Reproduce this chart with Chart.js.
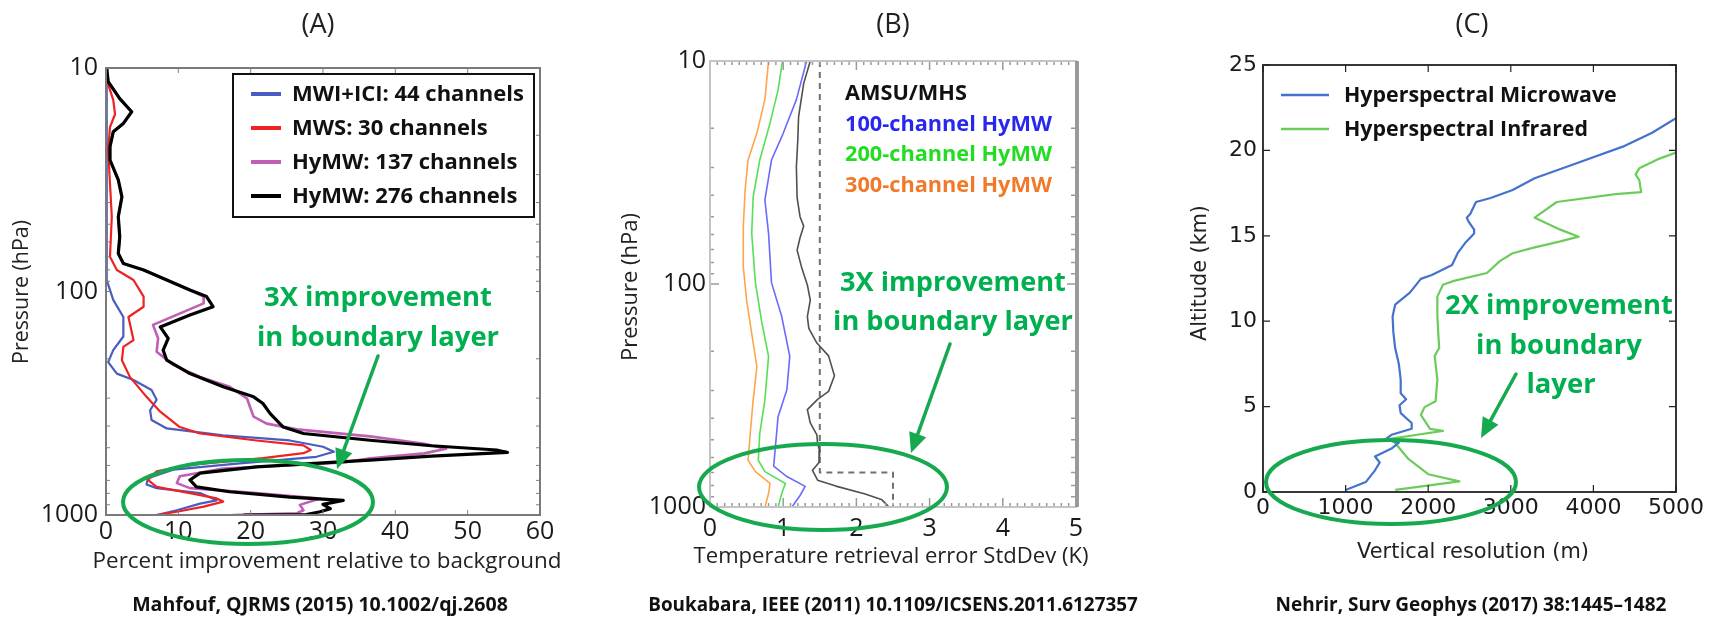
<!DOCTYPE html>
<html><head><meta charset="utf-8">
<script src="https://cdn.jsdelivr.net/npm/chart.js@4.4.1/dist/chart.umd.min.js"></script>
<style>
html,body{margin:0;padding:0;background:#fff;}
#wrap{position:relative;width:1713px;height:619px;overflow:hidden;background:#fff;}
canvas{position:absolute;left:0;top:0;width:1713px;height:619px;}
</style></head><body>
<div id="wrap">
<canvas id="cA" width="1713" height="619"></canvas>
<canvas id="cB" width="1713" height="619"></canvas>
<canvas id="cC" width="1713" height="619"></canvas>
</div>
<script>
// ---------------- DATA ----------------
// Panel A: pressure (hPa) vs percent improvement
const A_xTicks = [0,10,20,30,40,50,60];
const A_yTicks = [10,100,1000];
const A_MWI_p = [10,89,109,130,159,183,207,233,249,276,305,340,376,410,440,464,495,521,549,587,627,685,730,758,798,860,889,952,1000];
const A_MWI_v = [0.1,0.1,1.0,2.4,2.4,1.0,0.3,1.5,3.8,6.3,7.0,6.1,6.3,8.4,16.2,25.4,30,31.5,29.1,18.5,9.3,5.8,5.6,7.0,13,15.3,13,9.8,7.0];
const A_MWS_p = [10,11.3,13.9,16.1,18.4,23.3,32.8,46.3,69.9,80.1,88.8,105.4,117,130,165,177,203,241,296,345,404,432,464,488,512,529,557,597,638,697,748,798,843,871,917,967,1000];
const A_MWS_v = [0,0.1,1.0,1.25,0.55,0.3,0.55,0.8,0.55,1.5,3.8,5.2,5.2,3.1,3.8,2.4,2.2,3.3,5.6,7.5,10.2,13,20.8,27.3,28.3,27.3,21.7,11.6,7.0,5.8,7.0,11.6,15.3,16.2,13.5,9.8,7.0];
const A_H137_p = [10,11.5,13.7,15.7,17.7,19.3,22.5,25.8,31.7,37.7,46.3,56.9,67.6,74.9,80.1,88.8,98.5,105.4,113,141,162,186,213,241,267,301,328,363,390,414,445,480,505,530,558,580,590,619,671,720,758,798,843,901,952,982,1000];
const A_H137_v = [0.1,0.3,1.9,3.55,2.4,1.0,0.55,0.55,1.7,2.2,1.7,1.9,1.7,2.4,5.2,8.4,11.6,13.5,13.5,6.5,7.2,7.0,9.3,13,17.1,19.5,19.9,20.4,22.2,26.4,36.5,44,47,44,36.6,33,30,16.2,10.2,9.8,11.6,20.8,29.6,26.8,27.3,26.4,17.5];
const A_H276_p = [10,11.5,13.7,15.7,17.7,19.3,22.5,25.8,31.7,37.7,46.3,56.9,67.6,74.9,80.1,88.8,98.5,105.4,117,127.5,144,162,183,203,233,267,296,317,352,404,432,463,490,512,525,545,568,585,609,650,697,748,787,832,860,896,937,967,995,1000];
const A_H276_v = [0.1,0.3,1.9,3.55,2.4,1.0,0.55,0.55,1.7,2.2,1.7,1.9,1.7,2.4,5.2,8.4,11.6,13.9,14.8,11.6,7.5,8.6,7.9,8.4,11.6,16.2,20.4,21.7,22.7,24.5,27.3,36.5,45,54,55.5,45,36.5,30,20.8,13,11.6,12.5,17.1,25.4,32.8,30,31,29.6,27.7,19];

// Panel B: pressure (hPa) vs temperature retrieval error (K)
const B_xTicks = [0,1,2,3,4,5];
const B_yTicks = [10,100,1000];
const B_AMSU_p = [10,12.6,17.8,22.4,29.8,41,49.9,55,62,70.5,83.8,101,118,140,158,184,210,258,303,329,366,420,475,520,560,631,685,758,806,874,929,988,1000];
const B_AMSU_v = [1.37,1.28,1.21,1.2,1.18,1.19,1.23,1.28,1.23,1.19,1.25,1.33,1.37,1.33,1.35,1.46,1.62,1.7,1.62,1.47,1.33,1.37,1.46,1.47,1.5,1.49,1.4,1.47,1.72,2.12,2.35,2.43,2.43];
const B_AMSU_ref_p = [10,700,700,1000];
const B_AMSU_ref_v = [1.5,1.5,2.5,2.5];
const B_100_p = [10,14.9,21.1,27.8,42,59.3,98.6,140,211,298,394,553,655,730,808,888,1000];
const B_100_v = [1.32,1.18,1.0,0.84,0.75,0.80,0.84,0.98,1.09,1.05,0.93,0.89,0.87,1.05,1.30,1.23,1.12];
const B_200_p = [10,13.5,19,27.8,40.6,59.3,98.6,150,211,331,467,617,694,784,870,1000];
const B_200_v = [0.99,0.93,0.82,0.68,0.59,0.57,0.62,0.71,0.80,0.75,0.68,0.66,0.75,1.03,0.98,0.93];
const B_300_p = [10,14.9,21.1,27.8,37.8,55.3,83.8,118,167,235,331,467,617,694,784,870,1000];
const B_300_v = [0.80,0.75,0.64,0.52,0.48,0.455,0.455,0.50,0.57,0.64,0.59,0.55,0.52,0.62,0.82,0.80,0.75];

// Panel C: altitude (km) vs vertical resolution (m)
const C_xTicks = [0,1000,2000,3000,4000,5000];
const C_yTicks = [0,5,10,15,20,25];
const C_MW_res = [1000,1244,1356,1413,1356,1556,1644,1476,1556,1800,1800,1667,1653,1733,1667,1667,1644,1600,1578,1569,1600,1778,1911,2044,2289,2356,2444,2556,2556,2489,2467,2511,2578,2756,3022,3289,3822,4356,4711,5000];
const C_MW_alt = [0.12,0.58,1.27,1.73,2.08,2.54,2.89,3.07,3.35,3.70,4.04,4.62,5.08,5.43,5.78,6.58,7.51,8.43,9.36,10.28,10.97,11.67,12.48,12.71,13.29,13.98,14.56,15.13,15.36,15.83,16.06,16.29,16.98,17.21,17.68,18.37,19.29,20.22,21.03,21.88];
const C_IR_res = [1600,2378,2000,1756,1556,1867,2178,2022,1911,1956,2089,2111,2078,2133,2124,2111,2111,2178,2311,2711,2867,3022,3289,3600,3822,3600,3289,3556,4267,4578,4556,4511,4556,4800,5000];
const C_IR_alt = [0.12,0.62,1.04,1.96,3.12,3.35,3.58,3.70,4.51,4.97,5.31,6.58,7.97,8.43,9.13,10.28,11.44,12.13,12.36,12.82,13.52,13.98,14.32,14.67,14.95,15.36,16.06,16.98,17.44,17.56,18.25,18.60,18.95,19.52,19.87];

// ---------------- HELPERS ----------------
const GREEN_TXT = '#00b050', GREEN = '#17a94f';
function pts(xs, ys){ return xs.map((x,i)=>({x:x, y:ys[i]})); }
function fitSize(ctx, text, family, weight, targetW){
  ctx.font = weight+' 100px "'+family+'"';
  return 100*targetW/ctx.measureText(text).width;
}
function txt(ctx, text, x, y, o){
  ctx.save();
  ctx.font = (o.weight||'normal')+' '+o.size+'px "'+o.family+'"';
  ctx.fillStyle = o.color||'#222';
  ctx.textAlign = o.align||'center';
  ctx.textBaseline = 'middle';
  ctx.translate(x,y);
  if(o.rotate) ctx.rotate(o.rotate);
  ctx.fillText(text,0,0);
  ctx.restore();
}
function arrow(ctx, x1,y1,x2,y2,color){
  ctx.save();
  ctx.strokeStyle=color; ctx.fillStyle=color; ctx.lineWidth=3.5; ctx.lineCap='round';
  const a=Math.atan2(y2-y1,x2-x1), hl=20, hw=9;
  const bx=x2-hl*Math.cos(a), by=y2-hl*Math.sin(a);
  ctx.beginPath(); ctx.moveTo(x1,y1); ctx.lineTo(bx,by); ctx.stroke();
  ctx.beginPath(); ctx.moveTo(x2,y2);
  ctx.lineTo(bx+hw*Math.sin(a), by-hw*Math.cos(a));
  ctx.lineTo(bx-hw*Math.sin(a), by+hw*Math.cos(a));
  ctx.closePath(); ctx.fill();
  ctx.restore();
}
function ellipse(ctx,cx,cy,rx,ry){
  ctx.save(); ctx.strokeStyle=GREEN; ctx.lineWidth=4;
  ctx.beginPath(); ctx.ellipse(cx,cy,rx,ry,0,0,Math.PI*2); ctx.stroke(); ctx.restore();
}
function minorLogs(){ const a=[]; [10,100].forEach(d=>{for(let k=2;k<10;k++)a.push(d*k);}); return a; }

function makeChart(id, area, o){
  const W=1713,H=619, yW=area.l-4, xH=50;
  const ds = o.datasets.map(d=>Object.assign({showLine:true,pointRadius:0,pointHoverRadius:0,fill:false,tension:0,borderJoinStyle:'round'},d));
  const tickFont = {family:o.tickFamily, size:o.tickSize};
  return new Chart(document.getElementById(id), {
    type:'scatter',
    data:{datasets:ds},
    options:{
      responsive:false, animation:false, events:[],
      layout:{padding:{left:area.l-yW, top:area.t, right:W-area.r, bottom:H-area.b-xH}},
      plugins:{legend:{display:false}, tooltip:{enabled:false}, title:{display:false}},
      scales:{
        x:{type:'linear', min:o.xMin, max:o.xMax,
           afterBuildTicks:s=>{s.ticks=o.xTicks.map(v=>({value:v}));},
           ticks:{font:tickFont, color:'#1a1a1a', padding:o.xPad, maxRotation:0, autoSkip:false, callback:v=>String(v)},
           grid:{display:false, drawTicks:false}, border:{display:false},
           afterFit:s=>{s.height=xH;}},
        y:{type:o.yType, min:o.yMin, max:o.yMax, reverse:!!o.yReverse,
           afterBuildTicks:s=>{s.ticks=o.yTicks.map(v=>({value:v}));},
           ticks:{font:tickFont, color:'#1a1a1a', padding:o.yPad, autoSkip:false, callback:v=>String(v)},
           grid:{display:false, drawTicks:false}, border:{display:false},
           afterFit:s=>{s.width=yW;}}
      }
    },
    plugins:[{id:'deco'+id, afterDraw:(chart)=>o.deco(chart, chart.ctx, chart.chartArea, chart.scales.x, chart.scales.y)}]
  });
}

// ---------------- PANEL A ----------------
// (Chart.js paints the first dataset on top)
makeChart('cA', {l:106,t:68,r:540,b:515}, {
  xMin:0,xMax:60,xTicks:A_xTicks, yType:'logarithmic', yMin:10,yMax:1000,yReverse:true,yTicks:A_yTicks,
  tickFamily:'Open Sans', tickSize:25, xPad:2, yPad:8,
  datasets:[
    {data:pts(A_H276_v,A_H276_p), borderColor:'#000000', borderWidth:3.2},
    {data:pts(A_H137_v,A_H137_p), borderColor:'#c060b4', borderWidth:2.6},
    {data:pts(A_MWS_v,A_MWS_p), borderColor:'#ee2222', borderWidth:2.2},
    {data:pts(A_MWI_v,A_MWI_p), borderColor:'#4a5cc0', borderWidth:2.2}
  ],
  deco:(chart,ctx,ca,xs,ys)=>{
    ctx.save();
    ctx.strokeStyle='#808080'; ctx.lineWidth=1;
    A_xTicks.forEach(v=>{const x=xs.getPixelForValue(v);
      ctx.beginPath();ctx.moveTo(x,ca.bottom);ctx.lineTo(x,ca.bottom-5);ctx.moveTo(x,ca.top);ctx.lineTo(x,ca.top+5);ctx.stroke();});
    minorLogs().concat(A_yTicks).forEach(v=>{const y=ys.getPixelForValue(v);
      ctx.beginPath();ctx.moveTo(ca.left,y);ctx.lineTo(ca.left+4,y);ctx.moveTo(ca.right,y);ctx.lineTo(ca.right-4,y);ctx.stroke();});
    ctx.strokeStyle='#7a7a7a'; ctx.lineWidth=2;
    ctx.strokeRect(ca.left,ca.top,ca.right-ca.left,ca.bottom-ca.top);
    // legend
    ctx.fillStyle='#fff'; ctx.fillRect(233,74,301,143);
    ctx.strokeStyle='#111'; ctx.lineWidth=2; ctx.strokeRect(233,74,301,143);
    const labels=['MWI+ICI: 44 channels','MWS: 30 channels','HyMW: 137 channels','HyMW: 276 channels'];
    const cols=['#4a5cc0','#ee2222','#c060b4','#000'];
    const fs=fitSize(ctx,labels[0],'Open Sans','bold',232);
    labels.forEach((l,i)=>{const y=94+i*34;
      ctx.strokeStyle=cols[i]; ctx.lineWidth=4; ctx.beginPath(); ctx.moveTo(251,y); ctx.lineTo(281,y); ctx.stroke();
      txt(ctx,l,292,y+1,{family:'Open Sans',weight:'bold',size:fs,color:'#111',align:'left'});});
    ctx.restore();
    // titles
    txt(ctx,'(A)',318,25,{family:'Open Sans',size:27,color:'#222'});
    txt(ctx,'Pressure (hPa)',22,292,{family:'Open Sans',size:fitSize(ctx,'Pressure (hPa)','Open Sans','normal',144),color:'#222',rotate:-Math.PI/2});
    txt(ctx,'Percent improvement relative to background',327,562,{family:'Open Sans',size:fitSize(ctx,'Percent improvement relative to background','Open Sans','normal',469),color:'#222'});
    txt(ctx,'Mahfouf, QJRMS (2015) 10.1002/qj.2608',320,605,{family:'Open Sans',weight:'bold',size:fitSize(ctx,'Mahfouf, QJRMS (2015) 10.1002/qj.2608','Open Sans','bold',376),color:'#111'});
    // annotation
    const af=fitSize(ctx,'3X improvement','Open Sans','bold',228);
    txt(ctx,'3X improvement',378,298,{family:'Open Sans',weight:'bold',size:af,color:GREEN_TXT});
    txt(ctx,'in boundary layer',378,338,{family:'Open Sans',weight:'bold',size:af,color:GREEN_TXT});
    arrow(ctx,378,356,337,469,GREEN);
    ellipse(ctx,248,502,125,42);
  }
});

// ---------------- PANEL B ----------------
makeChart('cB', {l:710,t:61,r:1076,b:507}, {
  xMin:0,xMax:5,xTicks:B_xTicks, yType:'logarithmic', yMin:10,yMax:1000,yReverse:true,yTicks:B_yTicks,
  tickFamily:'Open Sans', tickSize:25, xPad:7, yPad:4,
  datasets:[
    {data:pts(B_AMSU_v,B_AMSU_p), borderColor:'#505050', borderWidth:1.6},
    {data:pts(B_100_v,B_100_p), borderColor:'#6a6aff', borderWidth:1.6},
    {data:pts(B_200_v,B_200_p), borderColor:'#55e055', borderWidth:1.6},
    {data:pts(B_300_v,B_300_p), borderColor:'#ffa54a', borderWidth:1.6},
    {data:pts(B_AMSU_ref_v,B_AMSU_ref_p), borderColor:'#707070', borderWidth:2, borderDash:[6,5]}
  ],
  deco:(chart,ctx,ca,xs,ys)=>{
    ctx.save();
    ctx.strokeStyle='#9a9a9a'; ctx.lineWidth=1.5;
    for(let i=0;i<=50;i++){const v=i/10, x=xs.getPixelForValue(v), L=(i%10===0)?9:4;
      ctx.beginPath();ctx.moveTo(x,ca.bottom);ctx.lineTo(x,ca.bottom-L);ctx.moveTo(x,ca.top);ctx.lineTo(x,ca.top+L);ctx.stroke();}
    minorLogs().forEach(v=>{const y=ys.getPixelForValue(v);
      ctx.beginPath();ctx.moveTo(ca.left,y);ctx.lineTo(ca.left+4,y);ctx.moveTo(ca.right,y);ctx.lineTo(ca.right-5,y);ctx.stroke();});
    B_yTicks.forEach(v=>{const y=ys.getPixelForValue(v);
      ctx.beginPath();ctx.moveTo(ca.left,y);ctx.lineTo(ca.left+9,y);ctx.moveTo(ca.right,y);ctx.lineTo(ca.right-9,y);ctx.stroke();});
    ctx.strokeStyle='#c4c4c4'; ctx.lineWidth=2;
    ctx.strokeRect(ca.left,ca.top,ca.right-ca.left,ca.bottom-ca.top);
    ctx.strokeStyle='#9a9a9a'; ctx.lineWidth=4;
    ctx.beginPath(); ctx.moveTo(ca.right+1,ca.top); ctx.lineTo(ca.right+1,ca.bottom); ctx.stroke();
    ctx.restore();
    const lf=fitSize(ctx,'100-channel HyMW','Open Sans','bold',207);
    [['AMSU/MHS','#111'],['100-channel HyMW','#2727f0'],['200-channel HyMW','#22dd22'],['300-channel HyMW','#f07a2a']].forEach((e,i)=>{
      txt(ctx,e[0],845,[94,125,155,186][i],{family:'Open Sans',weight:'bold',size:lf,color:e[1],align:'left'});});
    txt(ctx,'(B)',893,25,{family:'Open Sans',size:27,color:'#222'});
    txt(ctx,'Pressure (hPa)',631,287,{family:'Open Sans',size:fitSize(ctx,'Pressure (hPa)','Open Sans','normal',148),color:'#222',rotate:-Math.PI/2});
    txt(ctx,'Temperature retrieval error StdDev (K)',891,557,{family:'Open Sans',size:fitSize(ctx,'Temperature retrieval error StdDev (K)','Open Sans','normal',395),color:'#222'});
    txt(ctx,'Boukabara, IEEE (2011) 10.1109/ICSENS.2011.6127357',893,606,{family:'Open Sans',weight:'bold',size:fitSize(ctx,'Boukabara, IEEE (2011) 10.1109/ICSENS.2011.6127357','Open Sans','bold',490),color:'#111'});
    const af=fitSize(ctx,'3X improvement','Open Sans','bold',226);
    txt(ctx,'3X improvement',953,283,{family:'Open Sans',weight:'bold',size:af,color:GREEN_TXT});
    txt(ctx,'in boundary layer',953,322,{family:'Open Sans',weight:'bold',size:af,color:GREEN_TXT});
    arrow(ctx,950,344,911,453,GREEN);
    ellipse(ctx,823,487,124,43);
  }
});

// ---------------- PANEL C ----------------
makeChart('cC', {l:1263,t:65,r:1676,b:492}, {
  xMin:0,xMax:5000,xTicks:C_xTicks, yType:'linear', yMin:0,yMax:25,yTicks:C_yTicks,
  tickFamily:'DejaVu Sans', tickSize:22, xPad:3, yPad:6,
  datasets:[
    {data:pts(C_MW_res,C_MW_alt), borderColor:'#4472cc', borderWidth:2.2},
    {data:pts(C_IR_res,C_IR_alt), borderColor:'#6ccc5a', borderWidth:2.2}
  ],
  deco:(chart,ctx,ca,xs,ys)=>{
    ctx.save();
    ctx.strokeStyle='#222'; ctx.lineWidth=1.2;
    C_xTicks.forEach(v=>{const x=xs.getPixelForValue(v);
      ctx.beginPath();ctx.moveTo(x,ca.bottom);ctx.lineTo(x,ca.bottom-7);ctx.moveTo(x,ca.top);ctx.lineTo(x,ca.top+7);ctx.stroke();});
    C_yTicks.forEach(v=>{const y=ys.getPixelForValue(v);
      ctx.beginPath();ctx.moveTo(ca.left,y);ctx.lineTo(ca.left+7,y);ctx.moveTo(ca.right,y);ctx.lineTo(ca.right-7,y);ctx.stroke();});
    ctx.strokeStyle='#222'; ctx.lineWidth=1.8;
    ctx.strokeRect(ca.left,ca.top,ca.right-ca.left,ca.bottom-ca.top);
    const lf=fitSize(ctx,'Hyperspectral Microwave','Open Sans','bold',273);
    [['Hyperspectral Microwave','#4472cc'],['Hyperspectral Infrared','#6ccc5a']].forEach((e,i)=>{const y=[95,129][i];
      ctx.strokeStyle=e[1]; ctx.lineWidth=2.5; ctx.beginPath(); ctx.moveTo(1281,y); ctx.lineTo(1329,y); ctx.stroke();
      txt(ctx,e[0],1344,y+1,{family:'Open Sans',weight:'bold',size:lf,color:'#111',align:'left'});});
    ctx.restore();
    txt(ctx,'(C)',1472,25,{family:'Open Sans',size:27,color:'#222'});
    txt(ctx,'Altitude (km)',1201,273,{family:'DejaVu Sans',size:fitSize(ctx,'Altitude (km)','DejaVu Sans','normal',136),color:'#222',rotate:-Math.PI/2});
    txt(ctx,'Vertical resolution (m)',1473,553,{family:'DejaVu Sans',size:fitSize(ctx,'Vertical resolution (m)','DejaVu Sans','normal',232),color:'#222'});
    txt(ctx,'Nehrir, Surv Geophys (2017) 38:1445–1482',1471,606,{family:'Open Sans',weight:'bold',size:fitSize(ctx,'Nehrir, Surv Geophys (2017) 38:1445–1482','Open Sans','bold',391),color:'#111'});
    const af=fitSize(ctx,'2X improvement','Open Sans','bold',228);
    txt(ctx,'2X improvement',1559,306,{family:'Open Sans',weight:'bold',size:af,color:GREEN_TXT});
    txt(ctx,'in boundary',1559,346,{family:'Open Sans',weight:'bold',size:af,color:GREEN_TXT});
    txt(ctx,'layer',1561,385,{family:'Open Sans',weight:'bold',size:af,color:GREEN_TXT});
    arrow(ctx,1516,374,1481,438,GREEN);
    ellipse(ctx,1391,482,125,42);
  }
});
</script>
</body></html>
